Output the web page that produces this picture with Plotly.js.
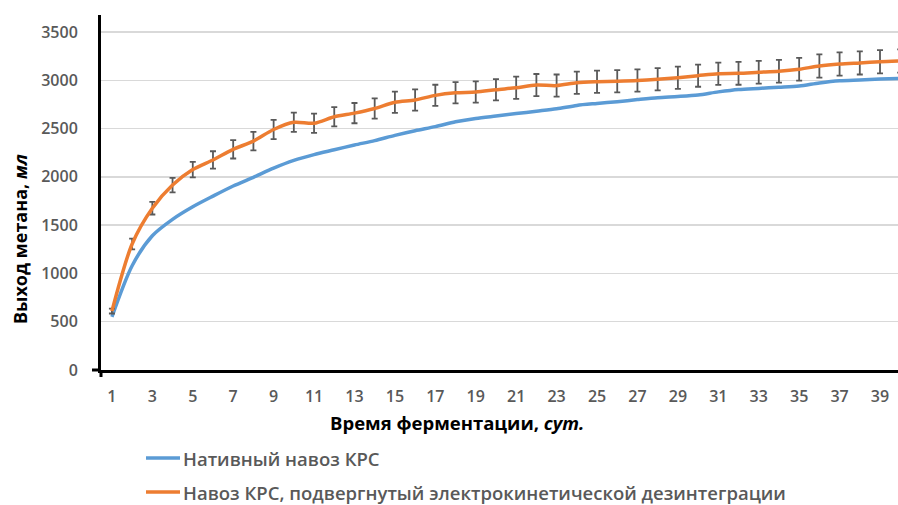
<!DOCTYPE html>
<html><head><meta charset="utf-8">
<script src="https://cdn.plot.ly/plotly-3.0.1.min.js"></script>
<style>html,body{margin:0;padding:0;background:#fff}</style>
</head><body><div id="chart" style="width:898px;height:505px"></div>
<script>
const days = [1,2,3,4,5,6,7,8,9,10,11,12,13,14,15,16,17,18,19,20,21,22,23,24,25,26,27,28,29,30,31,32,33,34,35,36,37,38,39,40];
const nativeYield = [550,1080,1390,1560,1690,1800,1905,1995,2090,2170,2230,2280,2330,2375,2430,2478,2520,2570,2605,2630,2655,2680,2705,2740,2760,2778,2800,2820,2832,2848,2880,2905,2916,2927,2940,2972,2995,3003,3012,3020];
const treatedYield = [610,1305,1675,1915,2075,2175,2285,2370,2490,2565,2555,2622,2660,2708,2772,2796,2844,2870,2878,2902,2923,2950,2945,2975,2985,2990,2997,3010,3027,3048,3068,3072,3083,3093,3114,3148,3168,3180,3192,3200];
const treatedError = [25,55,65,75,80,90,95,95,100,100,100,100,105,105,110,110,110,110,110,110,115,115,115,115,115,115,115,115,115,115,115,118,118,118,118,120,120,120,120,120];
const xTickVals = [1,3,5,7,9,11,13,15,17,19,21,23,25,27,29,31,33,35,37,39];
const xTickText = ['1','3','5','7','9','11','13','15','17','19','21','23','25','27','29','31','33','35','37','39'];
const yTickVals = [0,500,1000,1500,2000,2500,3000,3500];
const yTickText = ['0','500','1000','1500','2000','2500','3000','3500'];
const seriesNames = ['Нативный навоз КРС','Навоз КРС, подвергнутый электрокинетической дезинтеграции'];
const seriesColors = ['#5b9bd5', '#ed7d31'];
const xTitle = 'Время ферментации, <i>сут.</i>';
const yTitle = 'Выход метана, <i>мл</i>';

const FONT = 'Open Sans, DejaVu Sans, sans-serif';
const W = 898, H = 505, L = 101, T = 15, B = 135;
const PW = W - L, PH = H - T - B;
const px = v => (v - L) / PW;           // pixel x -> paper x
const py = v => (H - B - v) / PH;       // pixel y -> paper y

const traces = [
  {x: days, y: nativeYield, name: seriesNames[0], type: 'scatter', mode: 'lines',
   line: {color: seriesColors[0], width: 3.5, shape: 'spline', smoothing: 0.8}},
  {x: days, y: treatedYield, name: seriesNames[1], type: 'scatter', mode: 'lines',
   line: {color: seriesColors[1], width: 3.5, shape: 'spline', smoothing: 0.8},
   error_y: {type: 'data', array: treatedError, visible: true, color: '#595959', thickness: 1.8, width: 3}}
];
const tickFont = {size: 16, color: '#595959', family: FONT, weight: 600};
const legendRows = [458, 492];
const annotations = [
  {text: xTitle, xref: 'paper', yref: 'paper', x: px(457), y: py(422),
   xanchor: 'center', yanchor: 'middle', showarrow: false,
   font: {size: 18.5, color: '#000', family: FONT, weight: 'bold'}},
  {text: yTitle, xref: 'paper', yref: 'paper', x: px(20), y: py(239),
   xanchor: 'center', yanchor: 'middle', showarrow: false, textangle: -90,
   font: {size: 18, color: '#000', family: FONT, weight: 'bold'}}
];
const shapes = [
  {type: 'line', xref: 'paper', yref: 'paper', x0: px(92), x1: 0, y0: 0, y1: 0, line: {color: '#000', width: 3}},
  {type: 'line', xref: 'paper', yref: 'paper', x0: 0, x1: 0, y0: py(377), y1: 0, line: {color: '#000', width: 3}}
];
seriesNames.forEach((name, i) => {
  shapes.push({type: 'line', xref: 'paper', yref: 'paper', x0: px(146), x1: px(180),
    y0: py(legendRows[i]), y1: py(legendRows[i]), line: {color: seriesColors[i], width: 3.5}});
  annotations.push({text: name, xref: 'paper', yref: 'paper', x: px(182), y: py(legendRows[i]),
    xanchor: 'left', yanchor: 'middle', showarrow: false, borderpad: 0,
    font: {size: 18.5, color: '#595959', family: FONT, weight: 600}});
});
const layout = {
  width: W, height: H,
  margin: {l: L, r: 0, t: T, b: B},
  paper_bgcolor: '#ffffff', plot_bgcolor: '#ffffff',
  showlegend: false,
  font: {family: FONT, color: '#595959', size: 16},
  xaxis: {range: [0.46, 39.89], tickvals: xTickVals, ticktext: xTickText, showgrid: false,
    zeroline: false, showline: true, linecolor: '#000', linewidth: 3, ticks: '',
    ticklabelstandoff: 10, tickfont: tickFont, automargin: false},
  yaxis: {range: [0, 3676], tickvals: yTickVals, ticktext: yTickText, showgrid: true,
    gridcolor: '#d9d9d9', gridwidth: 1.5, zeroline: false, showline: true, linecolor: '#000',
    linewidth: 3, ticks: '', ticklabelstandoff: 17, tickfont: tickFont, automargin: false},
  annotations: annotations,
  shapes: shapes
};
Plotly.newPlot('chart', traces, layout, {displayModeBar: false, staticPlot: true});
</script></body></html>
